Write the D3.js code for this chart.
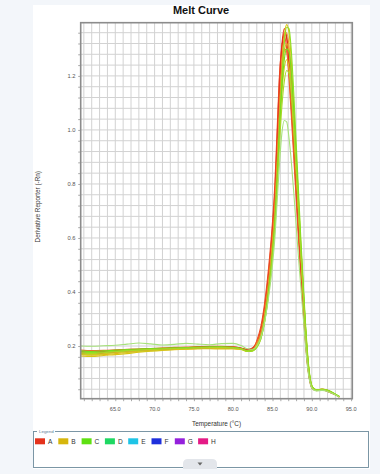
<!DOCTYPE html>
<html><head><meta charset="utf-8">
<script src="https://cdn.jsdelivr.net/npm/d3@7"></script>
<style>
html,body{margin:0;padding:0;background:#f3f6fa;}
svg{display:block;font-family:"Liberation Sans",Arial,sans-serif;}
</style></head>
<body><svg id="c" width="380" height="474"></svg>
<script>
// ---- data ----
const tempC = [60.6,62,63.5,65,66.5,68,69.5,71,72.5,74,75.5,77,78.5,80,81,81.8,82.5,83,83.5,84,84.5,85,85.3,85.6,85.9,86.2,86.5,86.8,87.1,87.4,87.7,88.0,88.3,88.6,88.9,89.2,89.5,89.8,90.1,90.6,91.3,92,92.7,93.5];
const wellA1 = [0.180,0.178,0.180,0.183,0.186,0.188,0.190,0.191,0.193,0.194,0.195,0.196,0.196,0.195,0.191,0.186,0.192,0.215,0.26,0.345,0.47,0.64,0.77,0.98,1.2,1.32,1.375,1.34,1.24,1.10,0.95,0.79,0.63,0.49,0.35,0.22,0.12,0.065,0.042,0.036,0.038,0.033,0.024,0.012];
const wellA2 = [0.172,0.170,0.173,0.177,0.181,0.184,0.187,0.189,0.190,0.192,0.194,0.193,0.195,0.194,0.190,0.184,0.190,0.22,0.27,0.36,0.49,0.66,0.80,1.01,1.21,1.31,1.35,1.30,1.19,1.05,0.90,0.75,0.60,0.46,0.33,0.21,0.115,0.062,0.041,0.035,0.037,0.032,0.023,0.011];
const wellA3 = [0.185,0.183,0.184,0.186,0.188,0.189,0.191,0.193,0.195,0.196,0.198,0.199,0.199,0.197,0.193,0.188,0.194,0.215,0.255,0.335,0.455,0.615,0.74,0.93,1.12,1.24,1.30,1.29,1.21,1.08,0.93,0.78,0.62,0.48,0.34,0.22,0.12,0.066,0.043,0.037,0.04,0.035,0.025,0.012];
const wellA4 = [0.176,0.174,0.176,0.179,0.183,0.186,0.189,0.191,0.192,0.193,0.196,0.197,0.197,0.196,0.192,0.186,0.193,0.21,0.25,0.33,0.45,0.61,0.74,0.94,1.15,1.30,1.36,1.345,1.26,1.12,0.97,0.81,0.65,0.50,0.36,0.23,0.125,0.067,0.043,0.036,0.039,0.034,0.024,0.012];
const wellB1 = [0.163,0.161,0.165,0.168,0.172,0.177,0.181,0.184,0.186,0.188,0.190,0.190,0.189,0.190,0.188,0.181,0.184,0.2,0.235,0.305,0.415,0.565,0.68,0.86,1.06,1.24,1.35,1.39,1.36,1.25,1.09,0.92,0.75,0.58,0.42,0.27,0.15,0.075,0.046,0.037,0.04,0.036,0.026,0.013];
const wellB2 = [0.168,0.166,0.168,0.172,0.176,0.180,0.184,0.186,0.187,0.189,0.190,0.192,0.192,0.190,0.187,0.180,0.183,0.205,0.24,0.315,0.43,0.58,0.70,0.87,1.05,1.20,1.29,1.32,1.29,1.18,1.03,0.87,0.71,0.55,0.40,0.26,0.145,0.073,0.045,0.037,0.039,0.035,0.025,0.012];
const wellB3 = [0.170,0.168,0.171,0.175,0.178,0.180,0.183,0.186,0.188,0.190,0.191,0.191,0.192,0.191,0.189,0.182,0.185,0.2,0.235,0.305,0.415,0.56,0.67,0.83,1.0,1.14,1.23,1.26,1.23,1.13,0.99,0.84,0.69,0.54,0.39,0.255,0.14,0.072,0.045,0.036,0.038,0.034,0.024,0.012];
const wellB4 = [0.175,0.173,0.175,0.178,0.181,0.184,0.186,0.188,0.190,0.191,0.192,0.193,0.194,0.193,0.190,0.183,0.187,0.21,0.245,0.32,0.435,0.59,0.71,0.89,1.09,1.26,1.34,1.36,1.31,1.19,1.04,0.88,0.71,0.55,0.40,0.26,0.145,0.073,0.045,0.037,0.041,0.036,0.025,0.012];
const wellC1 = [0.178,0.176,0.178,0.181,0.184,0.186,0.188,0.190,0.191,0.193,0.194,0.195,0.195,0.194,0.190,0.180,0.182,0.195,0.225,0.29,0.395,0.54,0.65,0.82,1.02,1.2,1.32,1.38,1.375,1.29,1.14,0.96,0.78,0.60,0.44,0.285,0.16,0.08,0.048,0.038,0.04,0.037,0.027,0.013];
const wellC2 = [0.182,0.180,0.182,0.185,0.187,0.189,0.191,0.192,0.193,0.194,0.196,0.197,0.197,0.195,0.191,0.182,0.184,0.198,0.23,0.3,0.405,0.55,0.66,0.82,1.0,1.16,1.26,1.30,1.29,1.21,1.07,0.91,0.74,0.57,0.42,0.27,0.15,0.077,0.047,0.038,0.04,0.036,0.026,0.013];
const wellC3 = [0.174,0.172,0.175,0.179,0.182,0.185,0.187,0.189,0.191,0.192,0.193,0.194,0.195,0.193,0.189,0.181,0.183,0.195,0.225,0.29,0.39,0.53,0.63,0.78,0.95,1.09,1.18,1.22,1.21,1.14,1.01,0.87,0.71,0.55,0.40,0.26,0.145,0.075,0.046,0.037,0.039,0.035,0.025,0.012];
const wellC4 = [0.200,0.199,0.201,0.203,0.207,0.211,0.208,0.204,0.206,0.210,0.207,0.205,0.209,0.210,0.202,0.190,0.188,0.2,0.23,0.29,0.38,0.5,0.6,0.74,0.88,0.99,1.035,1.03,0.97,0.88,0.77,0.65,0.53,0.42,0.31,0.2,0.11,0.06,0.04,0.034,0.036,0.032,0.023,0.011];
const seriesNames = ["A1","A2","A3","A4","B1","B2","B3","B4","C1","C2","C3","C4"];
const seriesValues = [wellA1,wellA2,wellA3,wellA4,wellB1,wellB2,wellB3,wellB4,wellC1,wellC2,wellC3,wellC4];
const xTickLabels = ["65.0","70.0","75.0","80.0","85.0","90.0","95.0"];
const xTickValues = [65,70,75,80,85,90,95];
const yTickLabels = ["0.2","0.4","0.6","0.8","1.0","1.2"];
const yTickValues = [0.2,0.4,0.6,0.8,1.0,1.2];
const legendKeys = ["A","B","C","D","E","F","G","H"];
const xDomain = [60.6, 95.15];
const yDomain = [0.005, 1.397];

// ---- styles ----
const lineColors = {A1:"#e8361e",A2:"#ee4a22",A3:"#f06a30",A4:"#e02a20",
  B1:"#d8c414",B2:"#e0b818",B3:"#cccc20",B4:"#e89a28",
  C1:"#8ee024",C2:"#76dc1c",C3:"#a8d828",C4:"#a6e27a"};
const legendColors = {A:"#e4321c",B:"#d6b60c",C:"#5ee012",D:"#1ed862",E:"#1ec4e6",F:"#1e30dc",G:"#9420dc",H:"#e41a86"};

const svg = d3.select("#c");
// white panel
svg.append("rect").attr("x",33).attr("y",5).attr("width",337).attr("height",464).attr("fill","#fff");

const L=80.7,R=352.3,T=22.7,B=398.7;
const x = d3.scaleLinear().domain(xDomain).range([L,R]);
const y = d3.scaleLinear().domain(yDomain).range([B,T]);

// title
svg.append("text").attr("x",201).attr("y",14).attr("text-anchor","middle")
  .attr("font-size",11).attr("font-weight","bold").attr("fill","#111").text("Melt Curve");

// grid
const gx = d3.range(61,96,1);
const gy = d3.range(0,34).map(k=>+(0.04+0.04*k).toFixed(2)).filter(v=>v<yDomain[1]);
const grid = svg.append("g").attr("stroke","#d2d2d2").attr("stroke-width",1);
gx.forEach(v=>grid.append("line").attr("x1",x(v)).attr("x2",x(v)).attr("y1",T).attr("y2",B));
gy.forEach(v=>grid.append("line").attr("x1",L).attr("x2",R).attr("y1",y(v)).attr("y2",y(v)));

// axes via d3 axis for ticks
const xAxis = d3.axisBottom(x).tickValues(gx).tickSize(2.5).tickFormat(()=>"");
const yAxis = d3.axisLeft(y).tickValues(gy).tickSize(2.5).tickFormat(()=>"");
const gxa = svg.append("g").attr("transform",`translate(0,${B})`).call(xAxis);
const gya = svg.append("g").attr("transform",`translate(${L},0)`).call(yAxis);
[gxa,gya].forEach(g=>{g.select(".domain").remove(); g.selectAll("line").attr("stroke","#aaa");});

// tick labels
svg.append("g").selectAll("text").data(xTickValues).join("text")
  .attr("x",d=>x(d)).attr("y",410.5).attr("text-anchor","middle")
  .attr("font-size",5.6).attr("fill","#555").text((d,i)=>xTickLabels[i]);
svg.append("g").selectAll("text").data(yTickValues).join("text")
  .attr("x",75.5).attr("y",d=>y(d)+2).attr("text-anchor","end")
  .attr("font-size",5.8).attr("fill","#555").text((d,i)=>yTickLabels[i]);

// axis titles
svg.append("text").attr("x",(L+R)/2).attr("y",425.5).attr("text-anchor","middle")
  .attr("font-size",6.4).attr("fill","#333").text("Temperature (°C)");
svg.append("text").attr("transform",`translate(40,${(T+B)/2-4}) rotate(-90)`).attr("text-anchor","middle")
  .attr("font-size",6.4).attr("fill","#333").text("Derivative Reporter (-Rn)");

// curves
const clip = svg.append("clipPath").attr("id","pc").append("rect").attr("x",L).attr("y",T).attr("width",R-L).attr("height",B-T);
const line = d3.line().x((d,i)=>x(tempC[i])).y(d=>y(d)).curve(d3.curveMonotoneX);
svg.append("g").attr("clip-path","url(#pc)").selectAll("path").data(seriesValues).join("path")
  .attr("d",d=>line(d)).attr("fill","none")
  .attr("stroke",(d,i)=>lineColors[seriesNames[i]]).attr("stroke-width",1.1);

// frame
svg.append("rect").attr("x",L).attr("y",T).attr("width",R-L).attr("height",B-T)
  .attr("fill","none").attr("stroke","#8c8c8c").attr("stroke-width",1.6);

// legend box
svg.append("rect").attr("x",33.5).attr("y",431.5).attr("width",335).attr("height",36)
  .attr("fill","none").attr("stroke","#6e8c9c").attr("stroke-width",0.9);
svg.append("rect").attr("x",37).attr("y",429).attr("width",18).attr("height",5).attr("fill","#fff");
svg.append("text").attr("x",39).attr("y",433).attr("font-size",4.4).attr("fill","#5a7c96").text("Legend");
const lg = svg.append("g").selectAll("g").data(legendKeys).join("g")
  .attr("transform",(d,i)=>`translate(${35+i*23.3},438.3)`);
lg.append("rect").attr("width",10).attr("height",6).attr("fill",d=>legendColors[d]);
lg.append("text").attr("x",13).attr("y",5.6).attr("font-size",6.6).attr("fill","#333").text(d=>d);

// bottom tab
svg.append("path").attr("d","M183,469 L183,464 Q183,459 188,459 L212,459 Q217,459 217,464 L217,469 Z").attr("fill","#e3e6eb");
svg.append("path").attr("d","M197.5,462.5 L202.5,462.5 L200,465.5 Z").attr("fill","#666");
</script></body></html>
